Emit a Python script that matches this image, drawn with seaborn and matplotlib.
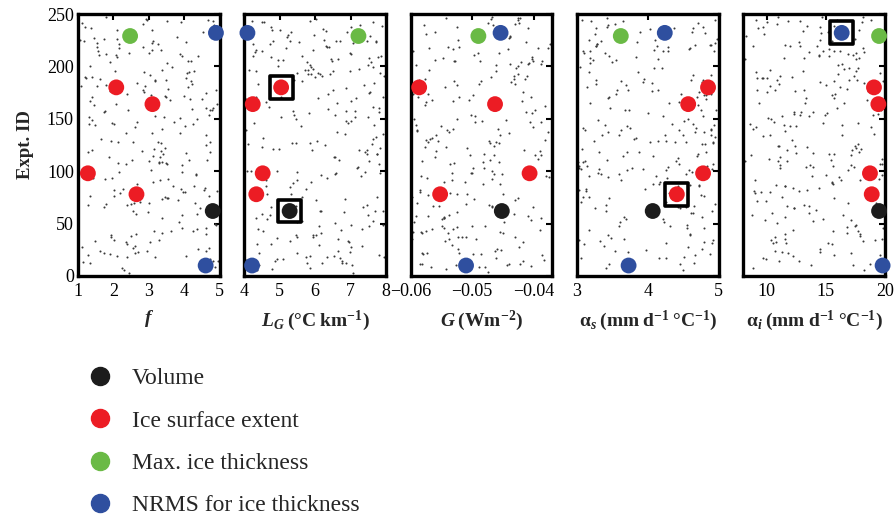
import numpy as np
import pandas as pd
import matplotlib
matplotlib.use("Agg")
import matplotlib.pyplot as plt
from matplotlib.lines import Line2D
import seaborn as sns

# ---------------- data ----------------
metrics = ["Volume", "Ice surface extent", "Ice surface extent", "Ice surface extent",
           "Ice surface extent", "Max. ice thickness", "NRMS for ice thickness",
           "NRMS for ice thickness"]
expt_ids = [62, 180, 164, 98, 78, 229, 232, 10]

f_vals = [4.80, 2.08, 3.10, 1.28, 2.65, 2.47, 4.89, 4.60]
LG_vals = [5.28, 5.04, 4.24, 4.52, 4.34, 7.22, 4.09, 4.22]
G_vals = [-0.0452, -0.0586, -0.0463, -0.0407, -0.0552, -0.0490, -0.0454, -0.0510]
as_vals = [4.07, 4.85, 4.57, 4.78, 4.41, 3.62, 4.24, 3.73]
ai_vals = [19.50, 19.07, 19.44, 18.73, 18.88, 19.50, 16.34, 19.80]

params = ["f", "LG", "G", "as", "ai"]
param_values = [f_vals, LG_vals, G_vals, as_vals, ai_vals]
xlims = [(1, 5), (4, 8), (-0.06, -0.037), (3, 5), (8, 20)]
xticks = [[1, 2, 3, 4, 5], [4, 5, 6, 7, 8], [-0.06, -0.05, -0.04], [3, 4, 5], [10, 15, 20]]
xticklabels = [["1", "2", "3", "4", "5"], ["4", "5", "6", "7", "8"],
               ["\u22120.06", "\u22120.05", "\u22120.04"], ["3", "4", "5"], ["10", "15", "20"]]
xlabels = [r"$\mathbfit{f}$",
           r"$\mathbfit{L}_{\mathbfit{G}}\;\mathbf{(°C\;km^{-1})}$",
           r"$\mathbfit{G}\;\mathbf{(Wm^{-2})}$",
           r"$\mathbf{\alpha}_{\mathbfit{s}}\;\mathbf{(mm\;d^{-1}\;°C^{-1})}$",
           r"$\mathbf{\alpha}_{\mathbfit{i}}\;\mathbf{(mm\;d^{-1}\;°C^{-1})}$"]

# highlighted (boxed) experiments: (parameter, expt id)
boxed_params = ["LG", "LG", "as", "ai"]
boxed_ids = [180, 62, 78, 232]

legend_order = ["Volume", "Ice surface extent", "Max. ice thickness", "NRMS for ice thickness"]
palette = {"Volume": "#1c1c1c", "Ice surface extent": "#ec1c24",
           "Max. ice thickness": "#6aba45", "NRMS for ice thickness": "#2f4f9f"}

# background ensemble members (250 experiments), deterministic stand-in texture
n_ens = 250
ens_ids = np.arange(1, n_ens + 1)

rows = []
for p, vals in zip(params, param_values):
    for m, e, v in zip(metrics, expt_ids, vals):
        rows.append({"param": p, "metric": m, "expt": e, "value": v})
df = pd.DataFrame(rows)

# ---------------- style ----------------
sns.set_theme(style="white")
plt.rcParams["font.family"] = ["Liberation Serif", "DejaVu Serif"]
plt.rcParams["mathtext.fontset"] = "custom"
plt.rcParams["mathtext.rm"] = "Liberation Serif"
plt.rcParams["mathtext.it"] = "Liberation Serif:italic"
plt.rcParams["mathtext.bf"] = "Liberation Serif:bold"
plt.rcParams["mathtext.bfit"] = "Liberation Serif:italic:bold"

fig, axes = plt.subplots(1, 5, figsize=(8.94, 5.15), dpi=100)
fig.subplots_adjust(left=0.0872, right=0.9899, top=0.9728, bottom=0.4641, wspace=0.172)

for i, (ax, p) in enumerate(zip(axes, params)):
    lo, hi = xlims[i]
    k = ens_ids.astype(float)
    frac = np.mod(np.sin(k * (12.9898 + 3.1 * i) + 78.233 * (i + 1)) * 43758.5453, 1.0)
    fracy = np.mod(np.sin(k * (39.3468 + 1.7 * i)) * 24634.6345, 1.0)
    bg = pd.DataFrame({"value": lo + (hi - lo) * (0.01 + 0.98 * frac),
                       "expt": 250 * (0.01 + 0.98 * fracy)})
    sns.scatterplot(data=bg, x="value", y="expt", ax=ax, s=2.2, color="#3a3a3a",
                    linewidth=0, legend=False, zorder=2)
    sub = df[df.param == p]
    sns.scatterplot(data=sub, x="value", y="expt", hue="metric", palette=palette,
                    hue_order=legend_order, s=130, linewidth=0, legend=False, ax=ax,
                    zorder=3, clip_on=False)
    bsel = [e for bp, e in zip(boxed_params, boxed_ids) if bp == p]
    if bsel:
        bsub = sub[sub.expt.isin(bsel)]
        ax.scatter(bsub["value"], bsub["expt"], marker="s", s=270, facecolors="none",
                   edgecolors="black", linewidths=2.6, zorder=4)
    ax.set_xlim(lo, hi)
    ax.set_ylim(0, 250)
    ax.set_xticks(xticks[i])
    ax.set_xticklabels(xticklabels[i])
    ax.set_yticks([0, 50, 100, 150, 200, 250])
    ax.tick_params(direction="in", length=4, width=1.5, top=True, right=True,
                   labelsize=13, pad=5, colors="black")
    ax.tick_params(axis="y", pad=3)
    if i > 0:
        ax.set_yticklabels([])
        ax.set_ylabel("")
    else:
        ax.set_ylabel("Expt. ID", fontsize=13.5, fontweight="bold", labelpad=9)
    ax.set_xlabel(xlabels[i], fontsize=14, labelpad=6)
    for sp in ax.spines.values():
        sp.set_linewidth(2.4)
        sp.set_color("black")
        sp.set_visible(True)

handles = [Line2D([0], [0], marker="o", linestyle="none", markersize=13,
                  markerfacecolor=palette[m], markeredgecolor=palette[m]) for m in legend_order]
fig.legend(handles, legend_order, loc="upper left", bbox_to_anchor=(0.075, 0.304),
           frameon=False, fontsize=17, labelspacing=0.88, handletextpad=0.35,
           borderaxespad=0)

fig.savefig("out.png", dpi=100)
